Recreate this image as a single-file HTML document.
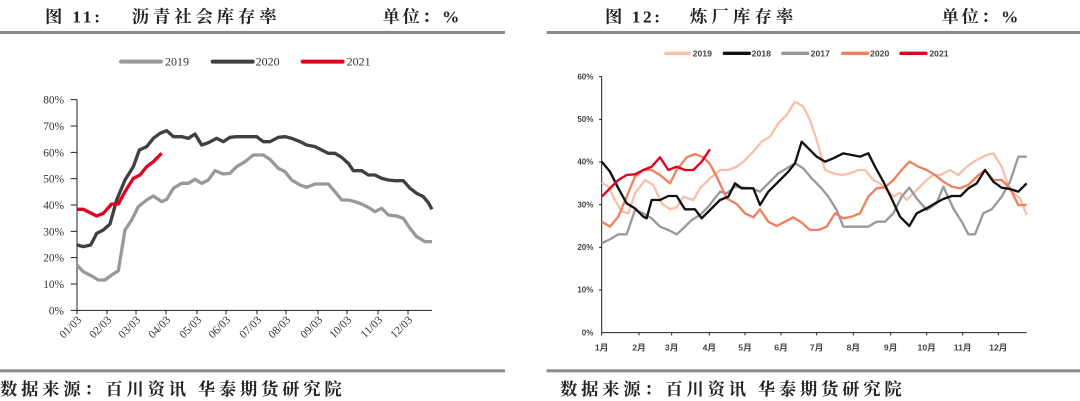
<!DOCTYPE html>
<html><head><meta charset="utf-8"><style>
html,body{margin:0;padding:0;background:#fff;width:1080px;height:401px;overflow:hidden}
svg{position:absolute;top:0}
.t{font-family:"Liberation Serif","Noto Serif CJK SC",serif;fill:#222;font-weight:bold}
.a{font-family:"Liberation Serif",serif;fill:#333}
.b{font-family:"Liberation Sans","Noto Sans CJK SC",sans-serif;fill:#444;font-weight:bold}
</style></head><body>
<svg style="left:0" width="540" height="401" viewBox="0 0 1620 1203">
<text class="t" x="135" y="67" font-size="52" textLength="165" lengthAdjust="spacing">图 11:</text>
<text class="t" x="395" y="67" font-size="52" textLength="435" lengthAdjust="spacing">沥青社会库存率</text>
<text class="t" x="1148" y="67" font-size="52" textLength="230" lengthAdjust="spacing">单位：%</text>
<rect x="0" y="93" width="1515" height="9" fill="#8a8a8a"/>
<rect x="0" y="1108" width="1515" height="9" fill="#8a8a8a"/>
<text class="t" x="0" y="1185" font-size="52" textLength="1025" lengthAdjust="spacing">数据来源：百川资讯 华泰期货研究院</text>
<g stroke-width="12" stroke-linecap="round">
<line x1="363" y1="185" x2="483" y2="185" stroke="#999"/>
<line x1="638" y1="185" x2="758" y2="185" stroke="#404040"/>
<line x1="908" y1="185" x2="1028" y2="185" stroke="#e00020"/>
</g>
<g class="a" font-size="36"><text x="495" y="197">2019</text><text x="767" y="197">2020</text><text x="1040" y="197">2021</text></g>
<g stroke="#222" stroke-width="3" fill="none">
<path d="M231,299V931H1296"/>
<path d="M212,299H231M212,378H231M212,457H231M212,536H231M212,615H231M212,694H231M212,773H231M212,852H231M212,931H231"/>
<path d="M231,931v12M321,931v12M408,931v12M498,931v12M591,931v12M678,931v12M771,931v12M858,931v12M954,931v12M1041,931v12M1134,931v12M1224,931v12"/>
</g>
<g class="a" font-size="34" text-anchor="end">
<text x="192" y="311">80%</text><text x="192" y="390">70%</text><text x="192" y="469">60%</text><text x="192" y="548">50%</text><text x="192" y="627">40%</text><text x="192" y="706">30%</text><text x="192" y="785">20%</text><text x="192" y="864">10%</text><text x="192" y="943">0%</text>
</g>
<g class="a" font-size="34" text-anchor="end">
<text transform="translate(246,962) rotate(-45)">01/03</text>
<text transform="translate(336,962) rotate(-45)">02/03</text>
<text transform="translate(423,962) rotate(-45)">03/03</text>
<text transform="translate(513,962) rotate(-45)">04/03</text>
<text transform="translate(606,962) rotate(-45)">05/03</text>
<text transform="translate(693,962) rotate(-45)">06/03</text>
<text transform="translate(786,962) rotate(-45)">07/03</text>
<text transform="translate(873,962) rotate(-45)">08/03</text>
<text transform="translate(969,962) rotate(-45)">09/03</text>
<text transform="translate(1056,962) rotate(-45)">10/03</text>
<text transform="translate(1149,962) rotate(-45)">11/03</text>
<text transform="translate(1239,962) rotate(-45)">12/03</text>
</g>
<g fill="none" stroke-width="10" stroke-linejoin="round">
<polyline stroke="#999" points="231,795 250,815 275,828 295,840 315,840 335,825 355,812 375,690 395,660 415,620 440,600 460,588 485,605 500,598 520,565 545,550 565,550 585,538 605,550 625,540 645,512 670,522 690,520 710,500 735,485 760,465 790,465 810,478 835,505 855,515 875,540 900,555 920,562 945,552 985,552 1005,575 1025,600 1045,600 1065,605 1085,612 1105,622 1125,635 1145,625 1165,645 1190,648 1210,655 1230,685 1250,710 1275,725 1296,725"/>
<polyline stroke="#404040" points="231,735 250,740 272,735 290,700 310,690 330,672 350,600 375,540 400,500 418,450 440,440 460,415 480,400 500,392 520,410 545,410 565,415 585,402 605,435 625,428 650,415 670,425 690,412 710,410 735,410 770,410 790,425 810,425 835,412 855,410 875,415 900,425 920,435 945,440 965,450 985,460 1005,460 1025,472 1045,490 1060,512 1085,512 1105,525 1125,525 1145,535 1165,540 1185,542 1210,542 1230,565 1250,580 1270,590 1285,608 1296,628"/>
<polyline stroke="#e00020" points="231,628 250,628 270,638 290,648 310,640 335,612 355,612 375,575 400,535 420,525 440,500 460,485 485,460"/>
</g>
</svg>
<svg style="left:540px" width="540" height="401" viewBox="0 0 1620 1203">
<text class="t" x="195" y="67" font-size="52" textLength="165" lengthAdjust="spacing">图 12:</text>
<text class="t" x="450" y="67" font-size="52" textLength="310" lengthAdjust="spacing">炼厂库存率</text>
<text class="t" x="1205" y="67" font-size="52" textLength="230" lengthAdjust="spacing">单位：%</text>
<rect x="20" y="93" width="1600" height="9" fill="#8a8a8a"/>
<rect x="20" y="1108" width="1600" height="9" fill="#8a8a8a"/>
<text class="t" x="60" y="1185" font-size="52" textLength="1025" lengthAdjust="spacing">数据来源：百川资讯 华泰期货研究院</text>
<g stroke-width="10" stroke-linecap="round">
<line x1="378" y1="160" x2="448" y2="160" stroke="#f8c0a8"/>
<line x1="553" y1="160" x2="628" y2="160" stroke="#111"/>
<line x1="728" y1="160" x2="803" y2="160" stroke="#999"/>
<line x1="908" y1="160" x2="983" y2="160" stroke="#f08060"/>
<line x1="1083" y1="160" x2="1158" y2="160" stroke="#e00020"/>
</g>
<g class="b" font-size="26"><text x="458" y="170">2019</text><text x="635" y="170">2018</text><text x="812" y="170">2017</text><text x="990" y="170">2020</text><text x="1168" y="170">2021</text></g>
<g stroke="#222" stroke-width="3" fill="none">
<path d="M185,230V998H1460"/>
<path d="M177,230H185M177,358H185M177,486H185M177,614H185M177,742H185M177,870H185"/>
<path d="M185,998v8M297,998v8M395,998v8M508,998v8M615,998v8M723,998v8M830,998v8M940,998v8M1052,998v8M1160,998v8M1268,998v8M1375,998v8"/>
</g>
<g class="b" font-size="24" text-anchor="end">
<text x="160" y="238">60%</text><text x="160" y="366">50%</text><text x="160" y="494">40%</text><text x="160" y="622">30%</text><text x="160" y="750">20%</text><text x="160" y="878">10%</text><text x="160" y="1006">0%</text>
</g>
<g class="b" font-size="26" text-anchor="middle">
<text x="185" y="1052">1月</text><text x="297" y="1052">2月</text><text x="395" y="1052">3月</text><text x="508" y="1052">4月</text><text x="615" y="1052">5月</text><text x="723" y="1052">6月</text><text x="830" y="1052">7月</text><text x="940" y="1052">8月</text><text x="1052" y="1052">9月</text><text x="1160" y="1052">10月</text><text x="1268" y="1052">11月</text><text x="1375" y="1052">12月</text>
</g>
<g fill="none" stroke-width="7" stroke-linejoin="round">
<polyline stroke="#f8c0a8" points="185,548 205,560 225,600 245,635 265,640 285,580 315,540 340,555 365,610 390,628 410,622 430,590 445,595 460,600 480,565 510,535 540,510 565,510 590,500 610,485 640,455 665,425 690,410 715,370 740,345 765,305 790,320 810,360 830,420 855,510 880,520 905,525 930,520 955,510 975,510 1000,540 1020,550 1040,570 1060,590 1080,578 1100,600 1120,580 1140,560 1160,540 1180,525 1200,525 1230,510 1255,525 1280,500 1310,480 1340,465 1360,460 1385,500 1410,570 1440,595 1460,645"/>
<polyline stroke="#999" points="185,730 210,718 235,703 260,703 285,630 310,640 335,655 360,680 385,690 410,703 430,685 455,660 480,645 505,620 540,575 560,580 585,560 610,563 635,565 660,575 690,545 715,520 740,505 765,490 790,505 815,535 840,560 865,590 890,630 910,680 935,680 960,680 985,680 1010,665 1035,665 1060,640 1085,590 1108,563 1130,595 1160,630 1190,610 1210,560 1240,625 1265,665 1285,703 1305,703 1330,640 1355,628 1385,590 1410,545 1435,470 1460,470"/>
<polyline stroke="#f08060" points="185,665 210,680 235,650 260,590 285,530 310,510 335,510 360,525 390,550 410,510 440,472 465,462 490,472 510,492 530,530 560,595 590,612 615,640 640,652 660,628 685,665 710,678 735,665 760,652 785,668 810,690 835,690 860,680 885,640 910,655 935,650 960,640 985,590 1010,565 1035,562 1060,540 1085,510 1108,485 1135,500 1160,510 1185,525 1210,545 1235,560 1260,565 1285,555 1310,530 1335,510 1360,540 1385,540 1410,565 1435,615 1460,615"/>
<polyline stroke="#111" points="185,485 210,515 235,565 260,610 285,625 310,650 320,655 335,600 360,600 385,588 410,588 435,628 465,628 485,655 510,630 540,600 565,590 585,550 605,565 640,565 660,615 685,575 715,545 745,515 765,490 785,425 805,445 830,470 855,485 880,475 910,460 935,465 960,470 985,460 1005,500 1030,545 1052,590 1080,650 1108,678 1130,640 1160,625 1185,610 1210,597 1235,588 1262,588 1285,565 1310,550 1335,510 1360,545 1385,563 1410,567 1435,575 1460,550"/>
<polyline stroke="#e00020" points="185,590 210,565 235,540 260,525 285,523 310,510 335,500 360,472 385,510 410,500 435,510 460,510 485,485 510,448"/>
</g>
</svg>
</body></html>
